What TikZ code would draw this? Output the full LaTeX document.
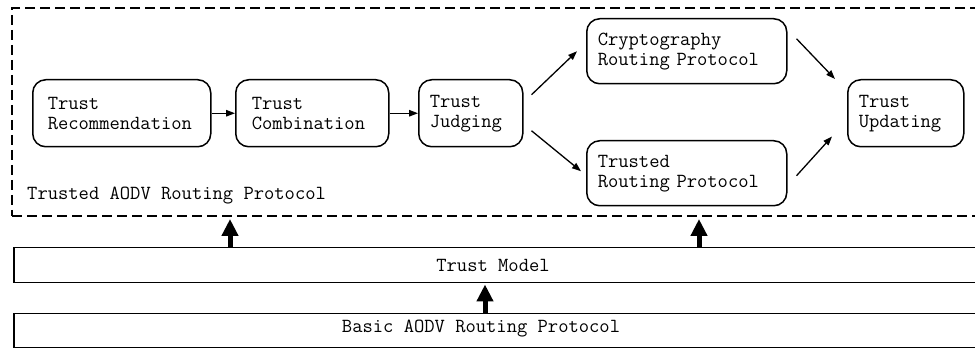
\documentclass[tikz,border=0pt]{standalone}
\usepackage{fontspec}
\usetikzlibrary{arrows.meta,calc}
\begin{document}
\begin{tikzpicture}[x=1pt,y=-1pt,
  font=\ttfamily\fontsize{20}{20}\selectfont,
  stage/.style={draw, line width=1.5pt, rounded corners=13pt, anchor=north west,
    align=left, inner ysep=0pt},
  layer/.style={draw, line width=1.5pt, anchor=north west, minimum width=972pt, inner sep=0pt},
  caption/.style={inner sep=0pt},
  flow/.style={line width=1.3pt, -{Triangle[length=9pt,width=6.5pt]}},
  lift/.style={line width=5pt, -{Triangle[length=17pt,width=16pt]}},
  ]
\useasboundingbox (0,0) rectangle (975,352);
\begin{scope}
\clip (0,0) rectangle (975,352);
% dashed frame of the trusted protocol (open to the right)
\node[draw, dash pattern=on 10pt off 5pt, line width=2pt, anchor=north west,
  minimum width=980pt, minimum height=208pt, inner sep=0pt] (tav) at (11,7) {};
\node[caption, anchor=base west] (tavlabel) at (27,200) {Trusted AODV Routing Protocol};

% processing stages
\node[stage, minimum width=178pt, minimum height=67pt, text width=148pt, inner xsep=15pt]
  (rec) at (32,79) {Trust\\Recommendation};
\node[stage, minimum width=153pt, minimum height=67pt, text width=121pt, inner xsep=16pt]
  (comb) at (235,79) {Trust\\Combination};
\node[stage, minimum width=104pt, minimum height=67pt, text width=82pt, inner xsep=11pt]
  (judge) at (418,79) {Trust\\Judging};
\node[stage, minimum width=200pt, minimum height=65pt, text width=178pt, inner xsep=11pt]
  (crypto) at (586,18) {Cryptography\\Routing Protocol};
\node[stage, minimum width=200pt, minimum height=65pt, text width=178pt, inner xsep=11pt]
  (trusted) at (586,140) {Trusted\\Routing Protocol};
\node[stage, minimum width=116pt, minimum height=67pt, text width=94pt, inner xsep=11pt]
  (upd) at (847,79) {Trust\\Updating};

% lower layers
\node[layer, minimum height=35pt] (model) at (13,247) {};
\node[caption, anchor=base] (modeltext) at (493,272) {Trust Model};
\node[layer, minimum height=34pt] (basic) at (13,313) {};
\node[caption, anchor=base] (basictext) at (481,333) {Basic AODV Routing Protocol};
\end{scope}

% flow between stages
\draw[flow] (rec.east) -- (comb.west);
\draw[flow] (comb.east) -- (judge.west);
\draw[flow] ($(judge.east)+(8,-18.5)$) -- ($(crypto.west)+(-9,0)$);
\draw[flow] ($(judge.east)+(8,17.5)$) -- ($(trusted.west)+(-5,-2)$);
\draw[flow] ($(crypto.east)+(9,-12.5)$) -- ($(upd.north west)+(-12,0)$);
\draw[flow] ($(trusted.east)+(9,2.5)$) -- ($(upd.south west)+(-15,-11)$);

% support between layers
\draw[lift] ($(model.north west)+(217,0)$) -- ($(tav.south west)+(219,2)$);
\draw[lift] ($(model.north west)+(686,0)$) -- ($(tav.south west)+(688,2)$);
\draw[lift] ($(basic.north west)+(472,0)$) -- ($(model.south west)+(472,1)$);
\end{tikzpicture}
\end{document}
